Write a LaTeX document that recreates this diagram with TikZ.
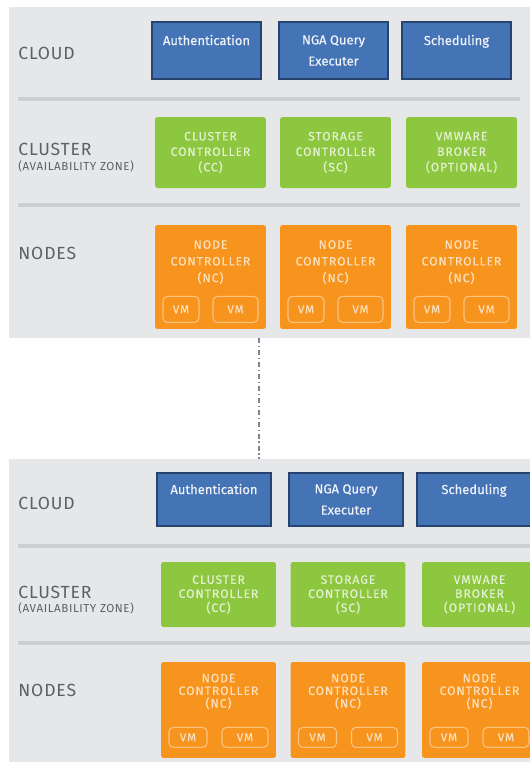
\documentclass[tikz,border=0pt]{standalone}
\usepackage{fontspec}
\setmainfont{Fira Sans}
\newfontfamily\labelfont[LetterSpace=5]{Fira Sans}
\newfontfamily\boxfont[LetterSpace=8, FakeBold=0.4]{Fira Sans}
\newfontfamily\servicefont[FakeBold=0.3]{Fira Sans}

\definecolor{panelgray}{HTML}{E6E7E8}
\definecolor{dividergray}{HTML}{CDCED0}
\definecolor{labelgray}{HTML}{5F6064}
\definecolor{cloudblue}{HTML}{4473B6}
\definecolor{cloudborder}{HTML}{27446E}
\definecolor{clustergreen}{HTML}{8DC63F}
\definecolor{nodeorange}{HTML}{F7941E}
\definecolor{gapgray}{HTML}{7C8696}

\begin{document}
\begin{tikzpicture}[x = 0.02cm, y = -0.02cm,
		layerlabel/.style={anchor=west, inner sep=0pt, text=labelgray,
			font=\labelfont\fontsize{10}{10}\selectfont},
		zonelabel/.style={layerlabel, font=\labelfont\fontsize{6.6}{7}\selectfont},
		cloudbox/.style={draw=cloudborder, line width=0.8pt, fill=cloudblue,
			text=white!92!cloudblue, align=center, inner sep=0pt,
			minimum width=2.18cm, minimum height=1.14cm,
			font=\servicefont\fontsize{7.4}{12}\selectfont},
		clusterbox/.style={fill=clustergreen, rounded corners=1.5pt,
			text=white!75!clustergreen, align=center, inner sep=0pt,
			minimum width=2.22cm, minimum height=1.42cm,
			font=\boxfont\fontsize{6.9}{8.8}\selectfont},
		nodebox/.style={fill=nodeorange, rounded corners=1.5pt,
			text=white!70!nodeorange, align=center, inner sep=0pt,
			minimum width=2.22cm, minimum height=2.08cm, text depth=18pt,
			font=\boxfont\fontsize{6.9}{9.5}\selectfont},
		vmbox/.style={draw=white!45!nodeorange, line width=0.6pt, rounded corners=2.5pt,
			text=white!70!nodeorange, inner sep=0pt, minimum height=0.52cm,
			font=\boxfont\fontsize{6.6}{7}\selectfont},
		divider/.style={dividergray, line width=2.3pt},
		gapline/.style={gapgray, line width=0.6pt,
			dash pattern=on 3pt off 1.5pt on 0.8pt off 1.5pt},
		]
	
	\useasboundingbox (0, 0) rectangle (530, 762);
	
	% Top panel
	\fill[panelgray] (9, 7) rectangle (530, 338);
	\draw[divider] (18, 99) -- (520, 99);
	\draw[divider] (18, 205) -- (520, 205);
	
	\node[layerlabel] (cloudTop) at (18, 53.5) {CLOUD};
	\node[layerlabel] (clusterTop) at (18, 149) {CLUSTER};
	\node[zonelabel] (zoneTop) at (18, 166) {(AVAILABILITY ZONE)};
	\node[layerlabel] (nodesTop) at (18, 253) {NODES};
	
	% Cloud services
	\node[cloudbox] (authTop) at (206.5, 50.5) {Authentication\\~};
	\node[cloudbox] (queryTop) at (333.5, 50.5) {NGA Query\\Executer};
	\node[cloudbox] (schedTop) at (456.5, 50.5) {Scheduling\\~};
	
	% Cluster controllers
	\node[clusterbox] (ccTop) at (210.5, 152.5) {CLUSTER\\CONTROLLER\\(CC)};
	\node[clusterbox] (scTop) at (335.5, 152.5) {STORAGE\\CONTROLLER\\(SC)};
	\node[clusterbox] (brokerTop) at (461.5, 152.5) {VMWARE\\BROKER\\(OPTIONAL)};
	
	% Node controllers and their VMs
	\node[nodebox] (ncTopA) at (210.5, 277) {NODE\\CONTROLLER\\(NC)};
	\node[nodebox] (ncTopB) at (335.5, 277) {NODE\\CONTROLLER\\(NC)};
	\node[nodebox] (ncTopC) at (461.5, 277) {NODE\\CONTROLLER\\(NC)};
	
	\node[vmbox, minimum width=0.72cm] (vmTopA1) at ([xshift=-0.59cm, yshift=0.4cm]ncTopA.south) {VM};
	\node[vmbox, minimum width=0.9cm] (vmTopA2) at ([xshift=0.5cm, yshift=0.4cm]ncTopA.south) {VM};
	\node[vmbox, minimum width=0.72cm] (vmTopB1) at ([xshift=-0.59cm, yshift=0.4cm]ncTopB.south) {VM};
	\node[vmbox, minimum width=0.9cm] (vmTopB2) at ([xshift=0.5cm, yshift=0.4cm]ncTopB.south) {VM};
	\node[vmbox, minimum width=0.72cm] (vmTopC1) at ([xshift=-0.59cm, yshift=0.4cm]ncTopC.south) {VM};
	\node[vmbox, minimum width=0.9cm] (vmTopC2) at ([xshift=0.5cm, yshift=0.4cm]ncTopC.south) {VM};
	
	% Gap between the two panels
	\coordinate (gapTop) at (259, 338);
	\coordinate (gapBottom) at (259, 459);
	\draw[gapline] (gapTop) -- (gapBottom);
	
	% Bottom panel (a little wider, a little flatter)
	\begin{scope}[cloudbox/.append style={minimum width=2.28cm, minimum height=1.06cm},
			clusterbox/.append style={minimum width=2.3cm, minimum height=1.3cm,
				font=\boxfont\fontsize{6.9}{8}\selectfont},
			nodebox/.append style={minimum width=2.3cm, minimum height=1.92cm, text depth=22pt,
				font=\boxfont\fontsize{6.9}{7.2}\selectfont},
			vmbox/.append style={minimum height=0.4cm},
			]
		\fill[panelgray] (9, 459) rectangle (530, 762);
		\draw[divider] (18, 546) -- (530, 546);
		\draw[divider] (18, 643) -- (530, 643);
		
		\node[layerlabel] (cloudBot) at (18, 503) {CLOUD};
		\node[layerlabel] (clusterBot) at (18, 592) {CLUSTER};
		\node[zonelabel] (zoneBot) at (18, 608) {(AVAILABILITY ZONE)};
		\node[layerlabel] (nodesBot) at (18, 690) {NODES};
		
		\node[cloudbox] (authBot) at (214, 499.5) {Authentication\\~};
		\node[cloudbox] (queryBot) at (346, 499.5) {NGA Query\\Executer};
		\node[cloudbox] (schedBot) at (474, 499.5) {Scheduling\\~};
		
		\node[clusterbox] (ccBot) at (218.5, 594.5) {CLUSTER\\CONTROLLER\\(CC)};
		\node[clusterbox] (scBot) at (348, 594.5) {STORAGE\\CONTROLLER\\(SC)};
		\node[clusterbox] (brokerBot) at (479.5, 594.5) {VMWARE\\BROKER\\(OPTIONAL)};
		
		\node[nodebox] (ncBotA) at (218.5, 710) {NODE\\CONTROLLER\\(NC)};
		\node[nodebox] (ncBotB) at (348, 710) {NODE\\CONTROLLER\\(NC)};
		\node[nodebox] (ncBotC) at (479.5, 710) {NODE\\CONTROLLER\\(NC)};
		
		\node[vmbox, minimum width=0.76cm] (vmBotA1) at ([xshift=-0.61cm, yshift=0.42cm]ncBotA.south) {VM};
		\node[vmbox, minimum width=0.92cm] (vmBotA2) at ([xshift=0.53cm, yshift=0.42cm]ncBotA.south) {VM};
		\node[vmbox, minimum width=0.76cm] (vmBotB1) at ([xshift=-0.61cm, yshift=0.42cm]ncBotB.south) {VM};
		\node[vmbox, minimum width=0.92cm] (vmBotB2) at ([xshift=0.53cm, yshift=0.42cm]ncBotB.south) {VM};
		\node[vmbox, minimum width=0.76cm] (vmBotC1) at ([xshift=-0.61cm, yshift=0.42cm]ncBotC.south) {VM};
		\node[vmbox, minimum width=0.92cm] (vmBotC2) at ([xshift=0.53cm, yshift=0.42cm]ncBotC.south) {VM};
	\end{scope}
	
\end{tikzpicture}
\end{document}
